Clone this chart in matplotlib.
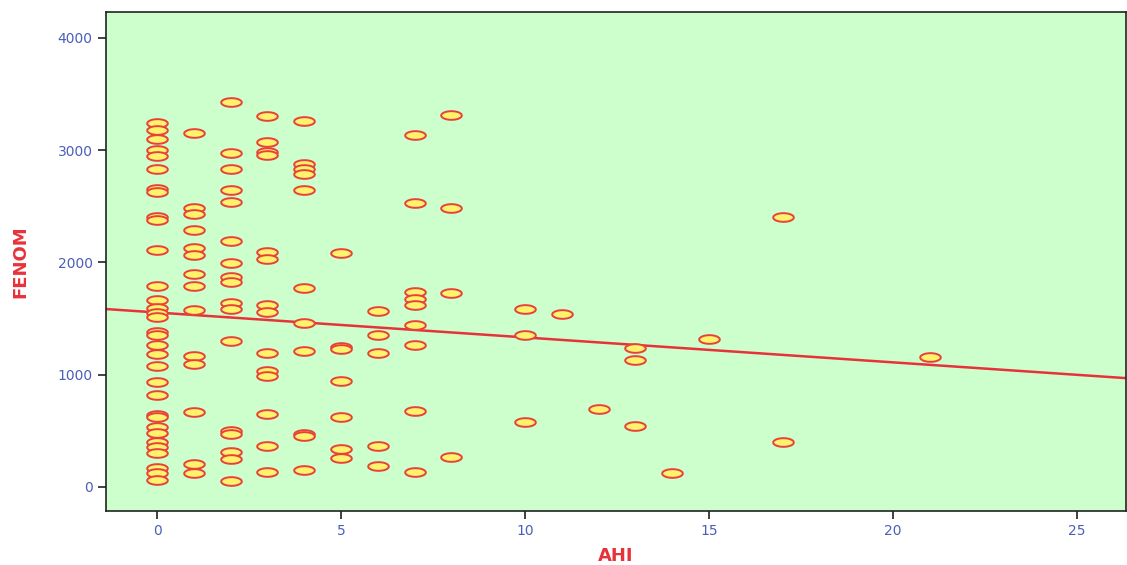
import numpy as np
import matplotlib
matplotlib.use("Agg")
import matplotlib.pyplot as plt
from matplotlib.path import Path

# AHI value -> FENOM readings at that AHI
ahi_levels = [0, 1, 2, 3, 4, 5, 6, 7, 8, 10, 11, 12, 13, 14, 15, 17, 21]
fenom_by_ahi = [
    [3244, 3179, 3099, 3004, 2947, 2832, 2653, 2630, 2407, 2378, 2114, 1790,
     1665, 1591, 1552, 1517, 1378, 1351, 1264, 1184, 1080, 935, 817, 641, 626,
     537, 478, 403, 359, 300, 167, 127, 62],
    [3155, 2487, 2428, 2286, 2128, 2063, 1894, 1793, 1579, 1167, 1098, 671,
     202, 127],
    [3431, 2977, 2829, 2645, 2535, 2191, 1992, 1873, 1826, 1641, 1588, 1303,
     499, 472, 309, 247, 53],
    [3304, 3072, 2983, 2956, 2095, 2030, 1623, 1556, 1196, 1036, 989, 650,
     368, 136],
    [3257, 2876, 2832, 2787, 2642, 1775, 1458, 1211, 475, 451, 151],
    [2081, 1249, 1226, 947, 621, 338, 256],
    [1570, 1351, 1191, 362, 187],
    [3132, 2532, 1736, 1677, 1623, 1445, 1264, 677, 136],
    [3313, 2484, 1725, 267],
    [1582, 1356, 576],
    [1543],
    [695],
    [1235, 1134, 546],
    [125],
    [1318],
    [2404, 403],
    [1158],
]

# fitted line
fit_intercept = 1554
fit_slope = -22.2

x_ticks = [0, 5, 10, 15, 20, 25]
y_ticks = [0, 1000, 2000, 3000, 4000]

ahi = []
fenom = []
for a, vals in zip(ahi_levels, fenom_by_ahi):
    for v in vals:
        ahi.append(a)
        fenom.append(v)

# flat ellipse marker
t = np.linspace(0, 2 * np.pi, 60)
ellipse = Path(np.column_stack([np.cos(t), 0.42 * np.sin(t)]), closed=True)

fig = plt.figure(figsize=(11.27, 5.65), dpi=100)
ax = fig.add_axes([0.094, 0.0956, 0.905, 0.883])
ax.set_facecolor("#ccffcc")

ax.scatter(ahi, fenom, marker=ellipse, s=220, facecolor="#fff36e",
           edgecolor="#e8403a", linewidths=1.4, zorder=3)

xlim = (-1.39, 26.33)
xs = np.array(xlim)
ax.plot(xs, fit_intercept + fit_slope * xs, color="#e8323a", lw=1.8, zorder=2)

ax.set_xlim(*xlim)
ax.set_ylim(-214, 4230)
ax.set_xticks(x_ticks)
ax.set_yticks(y_ticks)

for s in ax.spines.values():
    s.set_color("#222222")
    s.set_linewidth(1.2)

ax.tick_params(axis="both", direction="out", length=6, width=1.3,
               color="#333333", labelcolor="#4a5fb8", labelsize=10)
ax.set_xlabel("AHI", color="#e8323a", fontsize=13, fontweight="bold",
              labelpad=6)
ax.set_ylabel("FENOM", color="#e8323a", fontsize=13, fontweight="bold",
              labelpad=20)

fig.savefig("out.png", dpi=100, facecolor="white")
